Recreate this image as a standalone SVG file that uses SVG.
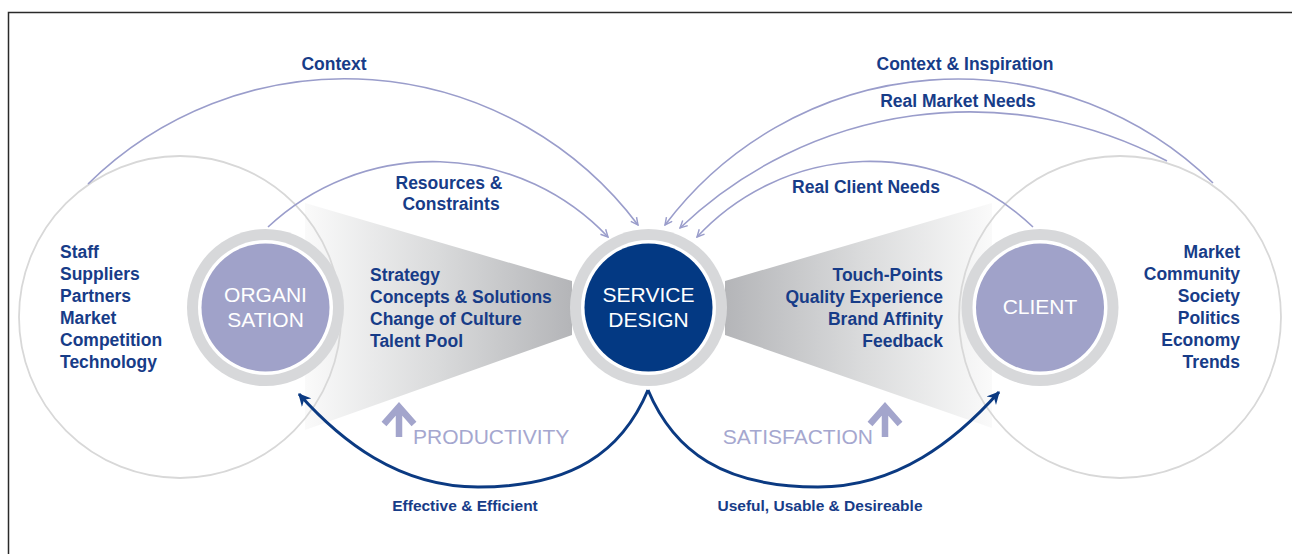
<svg xmlns="http://www.w3.org/2000/svg" width="1292" height="554" viewBox="0 0 1292 554">
<style>
.t{font-family:"Liberation Sans",Arial,Helvetica,sans-serif;font-weight:bold;font-size:17.5px;fill:#173c88}
.b{font-family:"Liberation Sans",Arial,Helvetica,sans-serif;font-weight:bold;font-size:15.5px;fill:#173c88}
.w{font-family:"Liberation Sans",Arial,Helvetica,sans-serif;font-size:21px;fill:#ffffff;text-anchor:middle}
.k{font-family:"Liberation Sans",Arial,Helvetica,sans-serif;font-size:21px;fill:#a5a7cf}
.arc{fill:none;stroke:#9a9dcb;stroke-width:1.6;marker-end:url(#ah)}
.nav{fill:none;stroke:#0b3a82;stroke-width:3;marker-end:url(#nh)}
.big{fill:none;stroke:#d8d8d8;stroke-width:1.8}
.ring{fill:#d7d8da}
.gap{fill:#ffffff}
.up{fill:none;stroke:#a3a5cc;stroke-width:6.5}
</style>
<defs>
<marker id="ah" viewBox="0 0 10 10" refX="9" refY="5" markerWidth="9" markerHeight="9" markerUnits="userSpaceOnUse" orient="auto">
<path d="M1,1 L9,5 L1,9" fill="none" stroke="#9a9dcb" stroke-width="1.6"/>
</marker>
<marker id="nh" viewBox="0 0 12 12" refX="10" refY="6" markerWidth="14" markerHeight="14" markerUnits="userSpaceOnUse" orient="auto">
<path d="M0,0.5 L11,6 L0,11.5 L3.5,6 Z" fill="#0b3a82"/>
</marker>
<linearGradient id="gl" gradientUnits="userSpaceOnUse" x1="572" y1="0" x2="305" y2="0">
<stop offset="0" stop-color="#b4b5b8"/>
<stop offset="0.5" stop-color="#d9dadb"/>
<stop offset="1" stop-color="#fafafa"/>
</linearGradient>
<linearGradient id="gr" gradientUnits="userSpaceOnUse" x1="725" y1="0" x2="992" y2="0">
<stop offset="0" stop-color="#b4b5b8"/>
<stop offset="0.5" stop-color="#d9dadb"/>
<stop offset="1" stop-color="#fafafa"/>
</linearGradient>
</defs>
<rect width="1292" height="554" fill="#ffffff"/>
<rect x="8.5" y="12.5" width="1300" height="600" fill="none" stroke="#2a2a2a" stroke-width="1.5"/>

<g id="wedges">
<polygon points="572,281 572,335 305,430 305,203" fill="url(#gl)"/>
<polygon points="725,281 725,335 992,428 992,203" fill="url(#gr)"/>
</g>

<g id="org-environment">
<circle class="big" cx="180" cy="317" r="161"/>
<text class="t" x="60" y="258">Staff</text>
<text class="t" x="60" y="280">Suppliers</text>
<text class="t" x="60" y="302">Partners</text>
<text class="t" x="60" y="324">Market</text>
<text class="t" x="60" y="346">Competition</text>
<text class="t" x="60" y="368">Technology</text>
</g>

<g id="client-environment">
<circle class="big" cx="1120" cy="317" r="161"/>
<g text-anchor="end">
<text class="t" x="1240" y="258">Market</text>
<text class="t" x="1240" y="280">Community</text>
<text class="t" x="1240" y="302">Society</text>
<text class="t" x="1240" y="324">Politics</text>
<text class="t" x="1240" y="346">Economy</text>
<text class="t" x="1240" y="368">Trends</text>
</g>
</g>

<g id="connectors">
<path class="arc" d="M88,184 A366.5,366.5 0 0 1 638,225"/>
<path class="arc" d="M268,227 A241,241 0 0 1 608,237"/>
<path class="arc" d="M1213,183 A366,366 0 0 0 665,225"/>
<path class="arc" d="M1167,161 A420,420 0 0 0 680,228"/>
<path class="arc" d="M1033,227 A235.6,235.6 0 0 0 697,237"/>
<path class="nav" d="M648,390 C622,452 572,487 478,487 C398,487 340,440 299,394"/>
<path class="nav" d="M648,390 C674,452 724,487 818,487 C898,487 956,440 999,392"/>
</g>

<g id="labels">
<text class="t" x="334" y="70" text-anchor="middle">Context</text>
<text class="t" x="965" y="70" text-anchor="middle">Context &amp; Inspiration</text>
<text class="t" x="958" y="107" text-anchor="middle">Real Market Needs</text>
<text class="t" x="866" y="193" text-anchor="middle">Real Client Needs</text>
<text class="t" x="449" y="189" text-anchor="middle">Resources &amp;</text>
<text class="t" x="451" y="210" text-anchor="middle">Constraints</text>
<text class="t" x="370" y="281">Strategy</text>
<text class="t" x="370" y="303">Concepts &amp; Solutions</text>
<text class="t" x="370" y="325">Change of Culture</text>
<text class="t" x="370" y="347">Talent Pool</text>
<g text-anchor="end">
<text class="t" x="943" y="281">Touch-Points</text>
<text class="t" x="943" y="303">Quality Experience</text>
<text class="t" x="943" y="325">Brand Affinity</text>
<text class="t" x="943" y="347">Feedback</text>
</g>
<text class="b" x="465" y="511" text-anchor="middle">Effective &amp; Efficient</text>
<text class="b" x="820" y="511" text-anchor="middle">Useful, Usable &amp; Desireable</text>
</g>

<g id="productivity">
<path class="up" d="M384,424 L399,407 L414,424 M399,409 L399,437"/>
<text class="k" x="413" y="444">PRODUCTIVITY</text>
</g>
<g id="satisfaction">
<path class="up" d="M870,424 L885,407 L900,424 M885,409 L885,437"/>
<text class="k" x="873" y="444" text-anchor="end">SATISFACTION</text>
</g>

<g id="organisation">
<circle class="ring" cx="265.5" cy="307.5" r="78.5"/>
<circle class="gap" cx="265.5" cy="307.5" r="67.5"/>
<circle cx="265.5" cy="307.5" r="64" fill="#a0a2c9"/>
<text class="w" x="265.5" y="302">ORGANI</text>
<text class="w" x="265.5" y="327">SATION</text>
</g>

<g id="service-design">
<circle class="ring" cx="648.5" cy="307.5" r="78.5"/>
<circle class="gap" cx="648.5" cy="307.5" r="67.5"/>
<circle cx="648.5" cy="307.5" r="64" fill="#033983"/>
<text class="w" x="648.5" y="302">SERVICE</text>
<text class="w" x="648.5" y="327">DESIGN</text>
</g>

<g id="client">
<circle class="ring" cx="1040" cy="307.5" r="78.5"/>
<circle class="gap" cx="1040" cy="307.5" r="67.5"/>
<circle cx="1040" cy="307.5" r="64" fill="#a0a2c9"/>
<text class="w" x="1040" y="314">CLIENT</text>
</g>
</svg>
